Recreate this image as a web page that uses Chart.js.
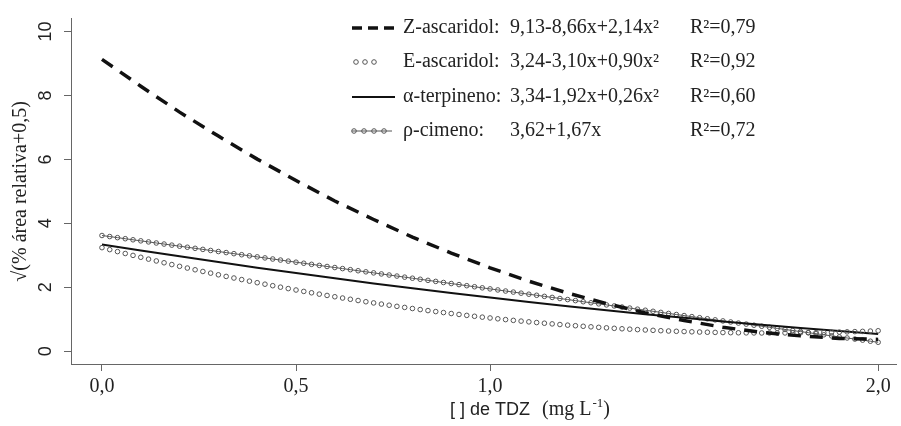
<!DOCTYPE html>
<html>
<head>
<meta charset="utf-8">
<script src="https://cdn.jsdelivr.net/npm/chart.js@4.4.1/dist/chart.umd.min.js"></script>
<style>
  html, body { margin: 0; padding: 0; background: #fff; }
  #wrap { width: 901px; height: 426px; }
</style>
</head>
<body>
<div id="wrap"><canvas id="grafico" width="901" height="426"></canvas></div>
<script>
// Dosis de TDZ (mg L-1): puntos finos para los marcadores, gruesos para las lineas
const doseFine = [
  0, 0.02, 0.04, 0.06, 0.08, 0.1, 0.12, 0.14, 0.16, 0.18,
  0.2, 0.22, 0.24, 0.26, 0.28, 0.3, 0.32, 0.34, 0.36, 0.38,
  0.4, 0.42, 0.44, 0.46, 0.48, 0.5, 0.52, 0.54, 0.56, 0.58,
  0.6, 0.62, 0.64, 0.66, 0.68, 0.7, 0.72, 0.74, 0.76, 0.78,
  0.8, 0.82, 0.84, 0.86, 0.88, 0.9, 0.92, 0.94, 0.96, 0.98,
  1.0, 1.02, 1.04, 1.06, 1.08, 1.1, 1.12, 1.14, 1.16, 1.18,
  1.2, 1.22, 1.24, 1.26, 1.28, 1.3, 1.32, 1.34, 1.36, 1.38,
  1.4, 1.42, 1.44, 1.46, 1.48, 1.5, 1.52, 1.54, 1.56, 1.58,
  1.6, 1.62, 1.64, 1.66, 1.68, 1.7, 1.72, 1.74, 1.76, 1.78,
  1.8, 1.82, 1.84, 1.86, 1.88, 1.9, 1.92, 1.94, 1.96, 1.98,
  2.0
];
const doseCoarse = [0, 0.1, 0.2, 0.3, 0.4, 0.5, 0.6, 0.7, 0.8, 0.9, 1.0,
  1.1, 1.2, 1.3, 1.4, 1.5, 1.6, 1.7, 1.8, 1.9, 2.0];

// Z-ascaridol (linea discontinua)
const zAscaridol = [9.13, 8.29, 7.48, 6.73, 6.01, 5.34, 4.70, 4.12, 3.57, 3.07, 2.61,
  2.19, 1.82, 1.49, 1.20, 0.96, 0.75, 0.59, 0.48, 0.40, 0.37];

// E-ascaridol (circulos)
const eAscaridol = [
  3.240, 3.178, 3.117, 3.057, 2.998, 2.939, 2.881, 2.824, 2.767, 2.711,
  2.656, 2.602, 2.548, 2.495, 2.443, 2.391, 2.340, 2.290, 2.241, 2.192,
  2.144, 2.097, 2.050, 2.004, 1.959, 1.915, 1.871, 1.828, 1.786, 1.745,
  1.704, 1.664, 1.625, 1.586, 1.548, 1.511, 1.475, 1.439, 1.404, 1.370,
  1.336, 1.303, 1.271, 1.240, 1.209, 1.179, 1.150, 1.121, 1.093, 1.066,
  1.040, 1.014, 0.989, 0.965, 0.942, 0.919, 0.897, 0.876, 0.855, 0.835,
  0.816, 0.798, 0.780, 0.763, 0.747, 0.731, 0.716, 0.702, 0.689, 0.676,
  0.664, 0.653, 0.642, 0.632, 0.623, 0.615, 0.607, 0.600, 0.594, 0.589,
  0.584, 0.580, 0.577, 0.574, 0.572, 0.571, 0.571, 0.571, 0.572, 0.574,
  0.576, 0.579, 0.583, 0.588, 0.593, 0.599, 0.606, 0.613, 0.621, 0.630,
  0.640
];

// alfa-terpineno (linea continua)
const aTerpineno = [3.34, 3.15, 2.97, 2.79, 2.61, 2.45, 2.28, 2.12, 1.97, 1.82, 1.68,
  1.54, 1.41, 1.28, 1.16, 1.05, 0.93, 0.83, 0.73, 0.63, 0.54];

// rho-cimeno (linea con circulos)
const pCimeno = [
  3.620, 3.587, 3.553, 3.520, 3.486, 3.453, 3.420, 3.386, 3.353, 3.319,
  3.286, 3.253, 3.219, 3.186, 3.152, 3.119, 3.086, 3.052, 3.019, 2.985,
  2.952, 2.919, 2.885, 2.852, 2.818, 2.785, 2.752, 2.718, 2.685, 2.651,
  2.618, 2.585, 2.551, 2.518, 2.484, 2.451, 2.418, 2.384, 2.351, 2.317,
  2.284, 2.251, 2.217, 2.184, 2.150, 2.117, 2.084, 2.050, 2.017, 1.983,
  1.950, 1.917, 1.883, 1.850, 1.816, 1.783, 1.750, 1.716, 1.683, 1.649,
  1.616, 1.583, 1.549, 1.516, 1.482, 1.449, 1.416, 1.382, 1.349, 1.315,
  1.282, 1.249, 1.215, 1.182, 1.148, 1.115, 1.082, 1.048, 1.015, 0.981,
  0.948, 0.915, 0.881, 0.848, 0.814, 0.781, 0.748, 0.714, 0.681, 0.647,
  0.614, 0.581, 0.547, 0.514, 0.480, 0.447, 0.414, 0.380, 0.347, 0.313,
  0.280
];

const xTicks = [0, 0.5, 1, 2];
const xTickLabels = ['0,0', '0,5', '1,0', '2,0'];
const yTicks = [0, 2, 4, 6, 8, 10];

// Textos de la leyenda
const legendNames = ['Z-ascaridol:', 'E-ascaridol:', '\u03B1-terpineno:', '\u03C1-cimeno:'];
const legendEqs = ['9,13-8,66x+2,14x\u00B2', '3,24-3,10x+0,90x\u00B2', '3,34-1,92x+0,26x\u00B2', '3,62+1,67x'];
const legendR2 = ['R\u00B2=0,79', 'R\u00B2=0,92', 'R\u00B2=0,60', 'R\u00B2=0,72'];

const SERIF = '"Liberation Serif", "Times New Roman", serif';
const SANS = '"Liberation Sans", Arial, sans-serif';
const GREY = '#555';

function pares(xs, ys) {
  return xs.map((x, i) => ({ x: x, y: ys[i] }));
}

// Leyenda y titulo del eje x dibujados a mano (fuentes mezcladas)
const extras = {
  id: 'extras',
  afterDraw(chart) {
    const c = chart.ctx;
    c.save();
    const rows = [28, 62, 97, 131];
    const x0 = 352, x1 = 395;

    // muestras
    c.strokeStyle = '#111';
    c.lineWidth = 3.5;
    c.setLineDash([10, 6]);
    c.beginPath(); c.moveTo(x0, rows[0]); c.lineTo(x1, rows[0]); c.stroke();
    c.setLineDash([]);

    c.lineWidth = 1;
    c.strokeStyle = GREY;
    [356, 365, 374].forEach(cx => {
      c.beginPath(); c.arc(cx, rows[1], 2.3, 0, Math.PI * 2); c.stroke();
    });

    c.strokeStyle = '#111';
    c.lineWidth = 2;
    c.beginPath(); c.moveTo(x0, rows[2]); c.lineTo(x1, rows[2]); c.stroke();

    c.strokeStyle = GREY;
    c.lineWidth = 1;
    c.beginPath(); c.moveTo(x0, rows[3]); c.lineTo(392, rows[3]); c.stroke();
    [354, 364, 374, 384].forEach(cx => {
      c.beginPath(); c.arc(cx, rows[3], 2.3, 0, Math.PI * 2); c.stroke();
    });

    // textos
    c.fillStyle = '#222';
    c.font = '20px ' + SERIF;
    c.textBaseline = 'middle';
    c.textAlign = 'left';
    rows.forEach((y, i) => {
      c.fillText(legendNames[i], 403, y);
      c.fillText(legendEqs[i], 510, y);
      c.fillText(legendR2[i], 690, y);
    });

    // titulo eje x
    c.textBaseline = 'alphabetic';
    let x = 450;
    const yb = 415;
    c.font = '18px ' + SANS;
    c.fillText('[ ] de TDZ', x, yb);
    x += c.measureText('[ ] de TDZ').width + 12;
    c.font = '20px ' + SERIF;
    c.fillText('(mg L', x, yb);
    x += c.measureText('(mg L').width + 1;
    c.font = '13px ' + SERIF;
    c.fillText('-1', x, yb - 8);
    x += c.measureText('-1').width;
    c.font = '20px ' + SERIF;
    c.fillText(')', x, yb);
    c.restore();
  }
};

new Chart(document.getElementById('grafico'), {
  type: 'line',
  data: {
    datasets: [
      {
        label: 'Z-ascaridol',
        data: pares(doseCoarse, zAscaridol),
        borderColor: '#111',
        borderWidth: 3.5,
        borderDash: [13, 9],
        pointRadius: 0,
        tension: 0
      },
      {
        label: 'E-ascaridol',
        data: pares(doseFine, eAscaridol),
        showLine: false,
        pointRadius: 2.3,
        pointBorderWidth: 1,
        pointBorderColor: GREY,
        pointBackgroundColor: 'rgba(0,0,0,0)'
      },
      {
        label: 'alfa-terpineno',
        data: pares(doseCoarse, aTerpineno),
        borderColor: '#111',
        borderWidth: 2,
        pointRadius: 0,
        tension: 0
      },
      {
        label: 'rho-cimeno',
        data: pares(doseFine, pCimeno),
        borderColor: GREY,
        borderWidth: 1,
        pointRadius: 2.3,
        pointBorderWidth: 1,
        pointBorderColor: GREY,
        pointBackgroundColor: 'rgba(0,0,0,0)',
        tension: 0
      }
    ]
  },
  options: {
    responsive: false,
    animation: false,
    devicePixelRatio: 1,
    layout: { padding: { top: 15, right: 0, left: 0, bottom: 0 } },
    plugins: {
      legend: { display: false },
      tooltip: { enabled: false }
    },
    scales: {
      x: {
        type: 'linear',
        min: -0.0798,
        max: 2.046,
        afterBuildTicks: s => { s.ticks = xTicks.map(v => ({ value: v })); },
        afterFit: s => { s.height = 62; },
        grid: { drawOnChartArea: false, tickLength: 7, color: '#666' },
        border: { color: '#666', width: 1 },
        ticks: {
          autoSkip: false,
          maxRotation: 0,
          padding: 4,
          color: '#222',
          font: { family: SERIF, size: 20 },
          callback: v => xTickLabels[xTicks.indexOf(v)]
        }
      },
      y: {
        min: -0.4,
        max: 10.4,
        afterBuildTicks: s => { s.ticks = yTicks.map(v => ({ value: v })); },
        afterFit: s => { s.width = 71; },
        grid: { drawOnChartArea: false, tickLength: 7, color: '#666' },
        border: { color: '#666', width: 1 },
        ticks: {
          minRotation: 90,
          maxRotation: 90,
          crossAlign: 'center',
          padding: 8,
          color: '#222',
          font: { family: SANS, size: 18 },
          callback: v => String(v)
        },
        title: {
          display: true,
          text: '\u221A(% \u00E1rea relativa+0,5)',
          color: '#222',
          font: { family: SERIF, size: 20 },
          padding: { top: 9, bottom: 0 }
        }
      }
    }
  },
  plugins: [extras]
});
</script>
</body>
</html>
